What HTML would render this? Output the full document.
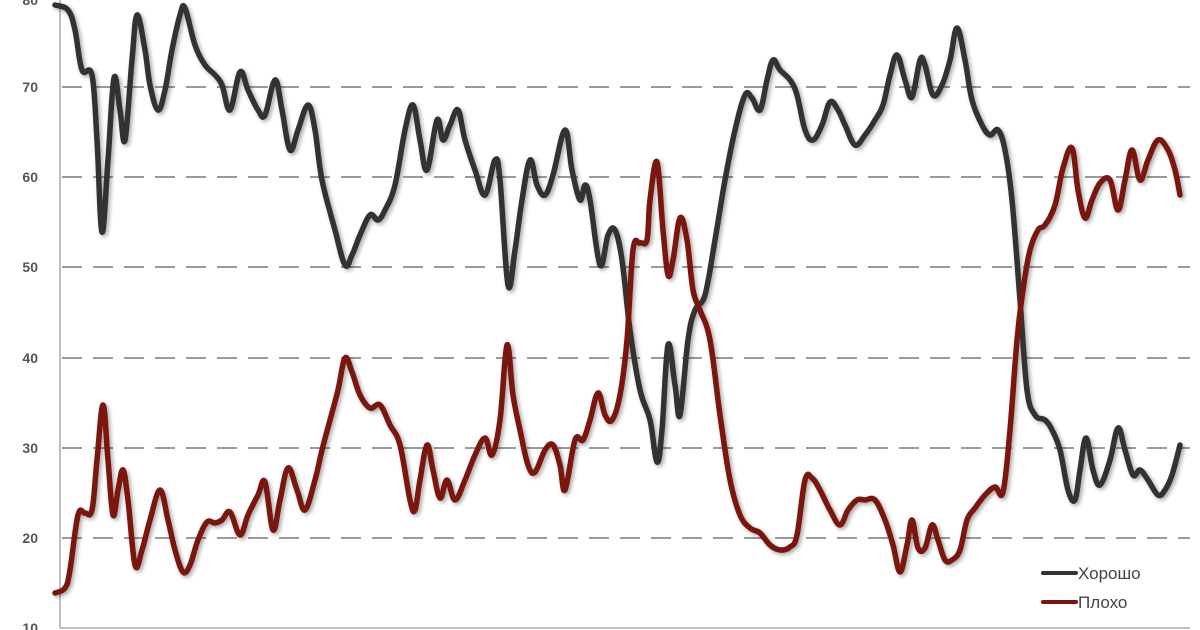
<!DOCTYPE html>
<html><head><meta charset="utf-8"><style>
html,body{margin:0;padding:0;background:#fff;}
svg{display:block;font-family:"Liberation Sans",sans-serif;}
</style></head><body>
<svg id="s" width="1200" height="630" viewBox="0 0 1200 630">
<defs><filter id="sh" x="-5%" y="-5%" width="110%" height="110%"><feGaussianBlur in="SourceAlpha" stdDeviation="2"/><feOffset dx="2" dy="2"/><feComponentTransfer><feFuncA type="linear" slope="0.35"/></feComponentTransfer><feMerge><feMergeNode/><feMergeNode in="SourceGraphic"/></feMerge></filter></defs>
<g stroke="#9a9a9a" stroke-width="2" stroke-dasharray="20 11">
<line x1="62" y1="87" x2="1190" y2="87"/>
<line x1="62" y1="177" x2="1190" y2="177"/>
<line x1="62" y1="267" x2="1190" y2="267"/>
<line x1="62" y1="358" x2="1190" y2="358"/>
<line x1="62" y1="448" x2="1190" y2="448"/>
<line x1="62" y1="538" x2="1190" y2="538"/>
</g>
<line x1="60" y1="0" x2="60" y2="628" stroke="#aaa" stroke-width="1.5"/>
<line x1="60" y1="628" x2="1190" y2="628" stroke="#aaa" stroke-width="1.5"/>
<g font-size="14" fill="#555" text-anchor="end" font-weight="bold">
<text x="38" y="5">80</text><text x="38" y="92">70</text><text x="38" y="182">60</text><text x="38" y="272">50</text><text x="38" y="363">40</text><text x="38" y="453">30</text><text x="38" y="543">20</text><text x="38" y="633">10</text>
</g>
<g id="lines" fill="none" stroke-width="5.5" stroke-linejoin="round" stroke-linecap="round" filter="url(#sh)">
<polyline stroke="#333" points="55,5 68,10 75,30 82,70 92,75 97,140 102,232 108,160 114,78 120,110 125,140 132,60 137,15 145,50 150,85 158,110 165,90 172,50 180,15 185,8 195,45 205,65 215,75 222,85 230,110 240,72 248,90 258,110 265,115 275,80 282,110 290,150 298,130 308,105 315,130 322,180 335,230 345,265 352,255 360,235 370,215 378,220 385,210 395,185 405,130 413,105 420,140 427,170 437,120 443,140 450,125 458,110 465,140 475,170 485,195 495,160 500,180 508,285 515,250 522,200 530,160 537,185 545,195 553,175 565,130 572,170 580,200 585,185 590,200 600,265 608,235 615,230 622,260 630,330 640,390 650,420 657,462 662,430 668,345 675,385 680,415 688,340 695,310 705,295 715,240 725,180 735,130 745,95 752,98 760,110 767,80 773,60 780,70 790,80 797,95 805,130 813,140 822,125 830,102 838,110 845,125 855,145 865,135 875,120 883,105 890,75 897,55 905,80 912,97 920,60 925,65 933,95 942,85 950,60 957,28 965,60 972,100 982,125 990,135 998,130 1005,150 1012,200 1020,300 1027,390 1035,415 1045,420 1052,430 1060,450 1068,490 1075,500 1080,470 1086,438 1093,470 1100,485 1110,460 1118,428 1125,450 1133,475 1140,470 1148,480 1158,495 1165,490 1172,475 1180,445"/>
<polyline stroke="#7a1410" points="55,593 65,588 70,570 78,515 85,513 92,510 97,460 103,405 108,460 113,515 118,490 123,470 128,500 135,565 142,550 150,520 160,490 168,520 175,550 183,572 190,565 198,540 207,522 215,523 222,520 230,512 240,535 248,515 258,495 265,482 273,530 280,500 288,468 297,490 305,510 315,480 322,450 330,420 338,390 345,358 352,372 360,395 370,408 380,405 390,425 400,445 410,500 415,510 420,480 427,445 433,470 440,498 447,480 455,500 465,480 475,455 485,438 492,455 500,420 507,345 513,395 520,430 528,465 535,472 545,450 553,445 560,465 565,490 575,440 583,440 590,420 598,393 605,415 612,420 620,395 627,340 633,250 640,243 647,240 650,200 657,162 663,230 668,275 673,260 680,218 687,240 693,290 700,310 710,340 720,415 730,480 740,515 750,528 760,533 770,545 780,550 790,547 797,535 805,480 812,478 820,490 830,510 840,525 848,510 857,500 865,500 875,500 885,520 893,545 900,572 907,545 912,520 918,548 925,548 932,525 938,540 945,560 952,560 960,550 967,520 975,508 985,495 995,487 1003,492 1010,430 1017,340 1023,290 1030,250 1038,230 1045,225 1055,205 1063,168 1072,148 1078,190 1085,218 1092,200 1100,183 1110,180 1118,210 1125,180 1132,150 1140,180 1148,160 1158,140 1168,150 1175,170 1180,195"/>
</g>
<line x1="1043" y1="573" x2="1076" y2="573" stroke="#333" stroke-width="4" stroke-linecap="round"/>
<line x1="1043" y1="602" x2="1076" y2="602" stroke="#7a1410" stroke-width="4" stroke-linecap="round"/>
<g font-size="17" fill="#444">
<text x="1078" y="579">Хорошо</text>
<text x="1078" y="608">Плохо</text>
</g>
</svg>
<script>
document.querySelectorAll('#lines polyline').forEach(function(pl){
  var p=pl.getAttribute('points').trim().split(/\s+/).map(function(s){return s.split(',').map(Number);});
  var d='M'+p[0][0]+','+p[0][1];
  for(var i=0;i<p.length-1;i++){
    var p0=p[i-1]||p[i],p1=p[i],p2=p[i+1],p3=p[i+2]||p2,t=0.18;
    var c1x=p1[0]+(p2[0]-p0[0])*t,c1y=p1[1]+(p2[1]-p0[1])*t;
    var c2x=p2[0]-(p3[0]-p1[0])*t,c2y=p2[1]-(p3[1]-p1[1])*t;
    d+=' C'+c1x.toFixed(1)+','+c1y.toFixed(1)+' '+c2x.toFixed(1)+','+c2y.toFixed(1)+' '+p2[0]+','+p2[1];
  }
  var path=document.createElementNS('http://www.w3.org/2000/svg','path');
  path.setAttribute('d',d);path.setAttribute('stroke',pl.getAttribute('stroke'));
  pl.parentNode.replaceChild(path,pl);
});
</script>
</body></html>
